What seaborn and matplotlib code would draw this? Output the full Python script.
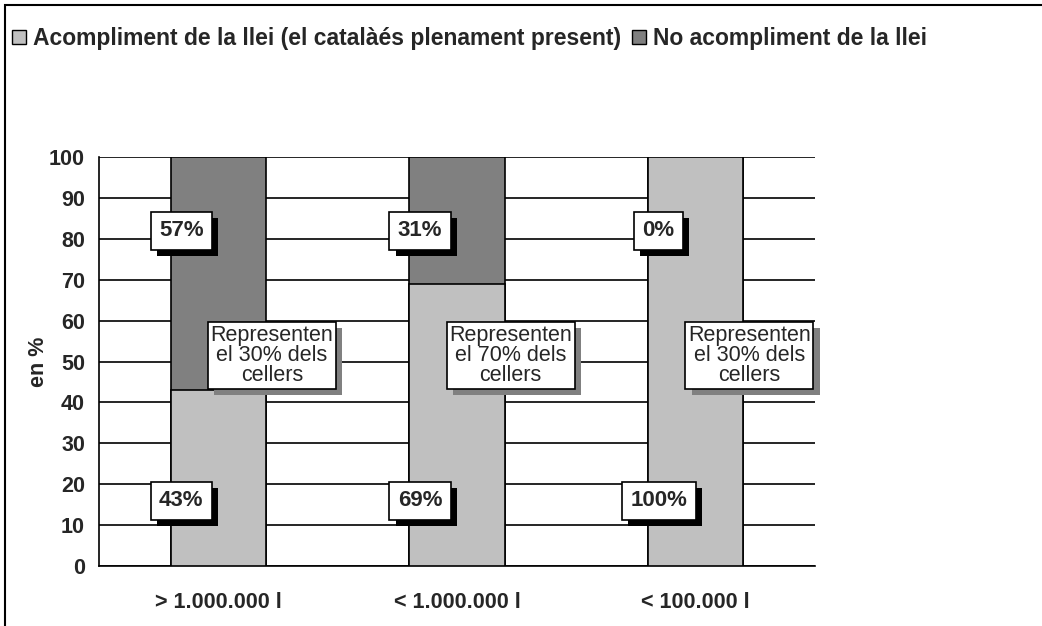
import matplotlib
matplotlib.use("Agg")
import matplotlib.pyplot as plt
import matplotlib.patheffects as pe
from matplotlib.patches import Rectangle
import pandas as pd
import seaborn as sns

# Data
categories = ["> 1.000.000 l", "< 1.000.000 l", "< 100.000 l"]
compliance = [43, 69, 100]
non_compliance = [57, 31, 0]
notes = ["Representen\nel 30% dels\ncellers",
         "Representen\nel 70% dels\ncellers",
         "Representen\nel 30% dels\ncellers"]
legend_labels = ["Acompliment de la llei (el catalàés plenament present)",
                 "No acompliment de la llei"]

light = "#C0C0C0"
dark = "#808080"

sns.set_style("white")
plt.rcParams["font.family"] = ["Liberation Sans", "DejaVu Sans"]

df = pd.DataFrame({"cat": categories, "ok": compliance, "no": non_compliance})
df["total"] = df["ok"] + df["no"]

fig = plt.figure(figsize=(10.42, 6.26), dpi=100)
ax = fig.add_axes([99 / 1042, 1 - 566 / 626, 716 / 1042, 409 / 626])

# stacked bars: draw total first, then the lower part on top
sns.barplot(data=df, x="cat", y="total", color=dark, width=0.4,
            edgecolor="black", linewidth=1.2, saturation=1, ax=ax, zorder=2)
sns.barplot(data=df, x="cat", y="ok", color=light, width=0.4,
            edgecolor="black", linewidth=1.2, saturation=1, ax=ax, zorder=3)

ax.set_xlim(-0.5, 2.5)
ax.set_ylim(0, 100)
ax.set_yticks(range(0, 101, 10))
ax.yaxis.grid(True, color="black", linewidth=1.2, zorder=0)
ax.set_axisbelow(True)
for s in ["top", "right"]:
    ax.spines[s].set_visible(False)
for s in ["left", "bottom"]:
    ax.spines[s].set_color("black")
    ax.spines[s].set_linewidth(1.2)

ax.set_xticks([-0.5, 0.5, 1.5, 2.5], minor=True)
ax.tick_params(axis="x", which="minor", length=6, width=1.2, direction="out", color="black")
ax.tick_params(axis="x", which="major", length=0, pad=19)
ax.tick_params(axis="y", length=6, width=1.2, direction="out", color="black", pad=4)
for lbl in ax.get_xticklabels() + ax.get_yticklabels():
    lbl.set_fontweight("bold")
    lbl.set_fontsize(15.5)
ax.set_xlabel("")
ax.set_ylabel("en %", fontsize=15.5, fontweight="bold", labelpad=0)


def boxed(x, y, text, shadow, weight, size, pad):
    t = ax.text(x, y, text, ha="center", va="center", fontsize=size,
                fontweight=weight, zorder=6, linespacing=0.95,
                bbox=dict(boxstyle=f"square,pad={pad}", fc="white", ec="black", lw=1.2))
    t.get_bbox_patch().set_path_effects(
        [pe.withSimplePatchShadow(offset=(4.5, -4.5), shadow_rgbFace=shadow, alpha=1.0)])
    return t


for i in range(len(categories)):
    boxed(i - 0.155, 82, f"{non_compliance[i]}%", "black", "bold", 16, 0.38)
    boxed(i - 0.155, 16, f"{compliance[i]}%", "black", "bold", 16, 0.38)
    boxed(i + 0.225, 51.5, notes[i], dark, "normal", 15.5, 0.12)

# legend
handles = [Rectangle((0, 0), 1, 1, fc=light, ec="black", lw=1),
           Rectangle((0, 0), 1, 1, fc=dark, ec="black", lw=1)]
fig.legend(handles, legend_labels, loc="upper left",
           bbox_to_anchor=(12 / 1042, 1 - 27 / 626),
           ncol=2, frameon=False, handlelength=0.6, handleheight=0.6,
           handletextpad=0.3, columnspacing=0.5, borderpad=0, borderaxespad=0,
           prop={"weight": "bold", "size": 16.5})

# outer chart frame (left and top edges visible)
fig.patches.append(Rectangle((5 / 1042, -0.1), 1.2, 1 - 5 / 626 + 0.1,
                             transform=fig.transFigure, fill=False,
                             ec="black", lw=1.5, zorder=0))

fig.savefig("out.png", dpi=100)
